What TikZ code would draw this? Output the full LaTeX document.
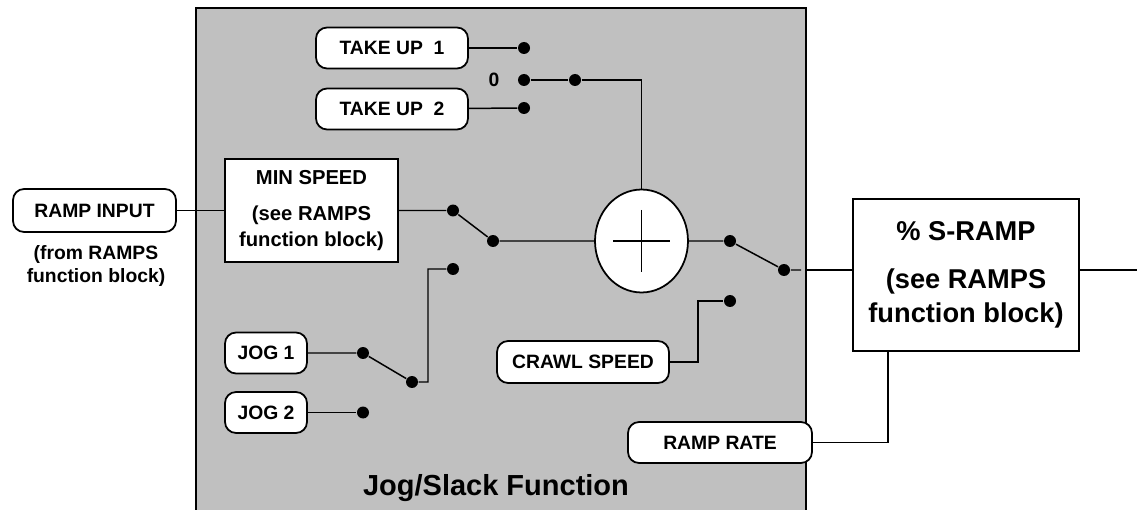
\documentclass[tikz,border=0pt]{standalone}
\usepackage{fontspec}
\setmainfont{Liberation Sans}
\usetikzlibrary{shapes.geometric}
\definecolor{jsGray}{RGB}{192,192,192}

\begin{document}
\begin{tikzpicture}[x=0.02cm,y=-0.02cm,line width=0.85pt,
  pill/.style={draw,fill=white,rounded corners=2.2mm,line width=1pt,font=\fontsize{11}{13}\selectfont\bfseries,inner sep=2pt},
  blk/.style={draw,fill=white,line width=1pt,align=center,inner sep=2pt},
  wdot/.style={circle,fill=black,inner sep=0pt,minimum size=0.24cm},
  lbl/.style={font=\fontsize{11}{13}\selectfont\bfseries,align=center}]
\useasboundingbox (0,0) rectangle (1137,510);
\node[draw,fill=jsGray,line width=1.1pt,minimum width=12.2cm,minimum height=10.3cm,inner sep=0pt] (jbox) at (501,265.5) {};
\node[pill,minimum width=3.04cm,minimum height=0.82cm] (tu1) at (392,48) {TAKE UP~~1};
\node[pill,minimum width=3.04cm,minimum height=0.82cm] (tu2) at (392,109) {TAKE UP~~2};
\node[pill,minimum width=3.26cm,minimum height=0.86cm] (ri) at (94.5,210.5) {RAMP INPUT};
\node[lbl] (rin) at (96,266) {(from RAMPS\\function block)};
\node[blk,minimum width=3.46cm,minimum height=2.06cm,font=\fontsize{11.5}{14.5}\selectfont\bfseries] (ms) at (311.5,210.5) {MIN SPEED\\[6pt](see RAMPS\\function block)};
\node[pill,minimum width=1.64cm,minimum height=0.82cm] (j1) at (266,353) {JOG 1};
\node[pill,minimum width=1.64cm,minimum height=0.82cm] (j2) at (266,412.5) {JOG 2};
\node[pill,minimum width=3.44cm,minimum height=0.84cm] (cs) at (583,362) {CRAWL SPEED};
\node[pill,minimum width=3.68cm,minimum height=0.82cm] (rr) at (720,442.5) {RAMP RATE};
\node[ellipse,draw,fill=white,line width=1pt,minimum width=1.86cm,minimum height=2.06cm] (sum) at (641.5,241) {};
\node[blk,minimum width=4.52cm,minimum height=3.04cm,font=\fontsize{15.5}{19.5}\selectfont\bfseries] (sr) at (966,275) {\% S-RAMP\\[8pt](see RAMPS\\function block)};
\node[font=\fontsize{16.5}{20}\selectfont\bfseries,anchor=base] (title) at (496,495) {Jog/Slack Function};
\node[lbl] (zero) at (494,80) {0};
\node[wdot] (t1) at (524,48) {};
\node[wdot] (t0) at (524,80) {};
\node[wdot] (t2) at (524,108) {};
\node[wdot] (tz) at (575,80) {};
\node[wdot] (m1) at (453,210.5) {};
\node[wdot] (m2) at (493,241) {};
\node[wdot] (jg) at (453,269) {};
\node[wdot] (jd1) at (363,353) {};
\node[wdot] (jd2) at (363,412.5) {};
\node[wdot] (js) at (412,382) {};
\node[wdot] (o1) at (730,241) {};
\node[wdot] (o2) at (784,270) {};
\node[wdot] (c1) at (730,301) {};
\coordinate (oe) at (801,270);
\coordinate (srin) at (888,351);
\coordinate (edge) at (1137,270);
\draw (tu1) -- (t1);
\draw (tu2) -- (t2);
\draw (t0) -- (tz) -| (sum);
\draw (sum.center) ++(-28.5,0) -- ++(57,0);
\draw (sum.center) ++(0,-31) -- ++(0,62);
\draw (ri) -- (ms);
\draw (ms) -- (m1) -- (m2) -- (sum);
\draw (sum) -- (o1) -- (o2) -- (oe);
\draw (jbox.east |- o2) -- (sr.west |- o2);
\draw (sr.east |- o2) -- (edge);
\draw (j1) -- (jd1) -- (js) -- ++(16,0) |- (jg);
\draw (j2) -- (jd2);
\draw (cs.east) -- ++(28,0) |- (c1);
\draw (rr) -| (srin);
\end{tikzpicture}
\end{document}
